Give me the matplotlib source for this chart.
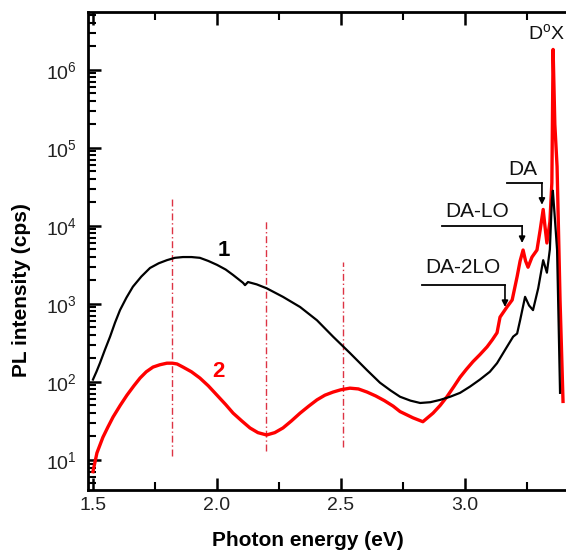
import numpy as np
import matplotlib
matplotlib.use("Agg")
import matplotlib.pyplot as plt
from matplotlib.ticker import MultipleLocator, FixedLocator, NullFormatter, LogFormatterSciNotation

plt.rcParams['font.family'] = ['Liberation Sans', 'DejaVu Sans']
plt.rcParams['mathtext.fontset'] = 'custom'
plt.rcParams['mathtext.rm'] = 'Liberation Sans'
plt.rcParams['mathtext.it'] = 'Liberation Sans:italic'
plt.rcParams['mathtext.bf'] = 'Liberation Sans:bold'

# ---- data (photon energy in eV, log10 of PL intensity in cps) ----
black_E = [1.500, 1.514, 1.528, 1.548, 1.569, 1.589, 1.609, 1.635, 1.661, 1.695,
           1.730, 1.765, 1.798, 1.830, 1.863, 1.897, 1.931, 1.965, 2.000, 2.035,
           2.065, 2.105, 2.113, 2.125, 2.160, 2.200, 2.266, 2.335, 2.403, 2.468,
           2.536, 2.605, 2.657, 2.700, 2.738, 2.780, 2.819, 2.860, 2.900, 2.940,
           2.980, 3.020, 3.060, 3.100, 3.129, 3.169, 3.194, 3.210, 3.222, 3.242,
           3.258, 3.274, 3.295, 3.315, 3.330, 3.342, 3.350, 3.354, 3.362, 3.371,
           3.377, 3.383]
black_log = [2.03, 2.13, 2.24, 2.41, 2.58, 2.76, 2.92, 3.08, 3.22, 3.35,
             3.46, 3.52, 3.56, 3.59, 3.60, 3.60, 3.59, 3.55, 3.50, 3.44,
             3.37, 3.27, 3.24, 3.28, 3.25, 3.20, 3.09, 2.96, 2.79, 2.58,
             2.37, 2.15, 1.99, 1.89, 1.81, 1.76, 1.73, 1.74, 1.77, 1.81,
             1.86, 1.94, 2.03, 2.13, 2.24, 2.45, 2.58, 2.62, 2.79, 3.09,
             2.98, 2.92, 3.20, 3.56, 3.40, 3.70, 4.33, 4.45, 4.10, 3.69,
             2.79, 1.86]

red_E = [1.500, 1.516, 1.540, 1.560, 1.581, 1.610, 1.637, 1.665, 1.690, 1.715,
         1.742, 1.770, 1.798, 1.820, 1.839, 1.863, 1.897, 1.931, 1.965, 2.000,
         2.035, 2.065, 2.100, 2.133, 2.165, 2.200, 2.233, 2.266, 2.300, 2.335,
         2.370, 2.403, 2.435, 2.468, 2.500, 2.536, 2.570, 2.605, 2.640, 2.675,
         2.710, 2.738, 2.790, 2.830, 2.871, 2.900, 2.927, 2.955, 2.980, 3.005,
         3.032, 3.060, 3.089, 3.110, 3.129, 3.141, 3.169, 3.190, 3.210, 3.222,
         3.234, 3.244, 3.254, 3.270, 3.290, 3.303, 3.315, 3.322, 3.330, 3.342,
         3.350, 3.355, 3.362, 3.371, 3.383, 3.395]
red_log = [0.85, 1.09, 1.29, 1.42, 1.55, 1.70, 1.83, 1.95, 2.05, 2.13,
           2.19, 2.22, 2.24, 2.24, 2.23, 2.19, 2.13, 2.05, 1.95, 1.83,
           1.71, 1.60, 1.50, 1.41, 1.35, 1.32, 1.35, 1.41, 1.50, 1.60,
           1.69, 1.77, 1.83, 1.87, 1.90, 1.92, 1.91, 1.87, 1.82, 1.76,
           1.69, 1.62, 1.54, 1.49, 1.60, 1.70, 1.81, 1.94, 2.06, 2.16,
           2.26, 2.35, 2.45, 2.54, 2.63, 2.83, 2.96, 3.05, 3.35, 3.55,
           3.69, 3.55, 3.47, 3.60, 3.69, 3.95, 4.21, 4.00, 3.78, 4.05,
           4.55, 6.26, 5.30, 4.76, 3.05, 1.75]

guide_E = [1.82, 2.198, 2.508]
guide_top = [4.36, 4.08, 3.54]
guide_bottom = [1.045, 1.12, 1.17]

x_ticks = [1.5, 2.0, 2.5, 3.0]
x_ticklabels = ["1.5", "2.0", "2.5", "3.0"]
y_ticks = [1e1, 1e2, 1e3, 1e4, 1e5, 1e6]

# annotation labels
peak_labels = ["DA", "DA-LO", "DA-2LO"]
peak_text_E = [3.234, 3.048, 2.990]
peak_text_log = [4.72, 4.18, 3.46]
peak_line_E0 = [3.169, 2.907, 2.827]
peak_line_E1 = [3.310, 3.230, 3.161]
peak_line_log = [4.55, 4.00, 3.24]
peak_tip_log = [4.27, 3.78, 2.96]

W, H = 566, 550
fig = plt.figure(figsize=(W / 100, H / 100), dpi=100)
ax = fig.add_axes([88 / W, 1 - 490 / H, (W - 88) / W, 478 / H])

ax.plot(black_E, 10 ** np.array(black_log), color='black', lw=1.6, zorder=3)
ax.plot(red_E, 10 ** np.array(red_log), color='#ff0000', lw=2.4, zorder=2)

for e, t, b in zip(guide_E, guide_top, guide_bottom):
    ax.plot([e, e], [10 ** b, 10 ** t], color='#dd3344', lw=1.0,
            linestyle=(0, (5, 2, 1, 2)), zorder=1)

for lab, tx, ty, x0, x1, ly, tip in zip(peak_labels, peak_text_E, peak_text_log,
                                         peak_line_E0, peak_line_E1, peak_line_log, peak_tip_log):
    ax.plot([x0, x1], [10 ** ly, 10 ** ly], color='black', lw=1.3, zorder=4)
    ax.annotate("", xy=(x1, 10 ** tip), xytext=(x1, 10 ** ly),
                arrowprops=dict(arrowstyle='-|>', color='black', lw=1.2,
                                mutation_scale=9, shrinkA=0, shrinkB=0), zorder=4)
    ax.text(tx, 10 ** ty, lab, fontsize=15, ha='center', va='center', color='#111111')

ax.text(3.328, 10 ** 6.47, r"D$^{\rm o}$X", fontsize=14, ha='center', va='center', color='#111111')
ax.text(2.028, 10 ** 3.69, "1", fontsize=16, fontweight='bold', ha='center', va='center', color='black')
ax.text(2.004, 10 ** 2.13, "2", fontsize=16, fontweight='bold', ha='center', va='center', color='#ff0000')

ax.set_yscale('log')
ax.set_xlim(1.48, 3.407)
ax.set_ylim(10 ** 0.615, 10 ** 6.74)

ax.set_xticks(x_ticks)
ax.set_xticklabels(x_ticklabels)
ax.xaxis.set_minor_locator(MultipleLocator(0.25))
ax.yaxis.set_major_locator(FixedLocator(y_ticks))
ax.yaxis.set_major_formatter(LogFormatterSciNotation())
minor_y = [m * 10.0 ** k for k in range(0, 7) for m in range(2, 10)]
ax.yaxis.set_minor_locator(FixedLocator(minor_y))
ax.yaxis.set_minor_formatter(NullFormatter())

ax.tick_params(axis='x', which='both', direction='in', top=True, bottom=True)
ax.tick_params(axis='y', which='both', direction='in', left=True, right=False)
ax.tick_params(which='major', length=9, width=1.8, labelsize=14, labelcolor='#222222')
ax.tick_params(which='minor', length=5.5, width=1.5)
ax.tick_params(axis='x', which='major', pad=5)
ax.tick_params(axis='y', which='major', pad=8)

for s in ['left', 'bottom', 'top']:
    ax.spines[s].set_linewidth(2.0)
ax.spines['right'].set_visible(False)

fig.text(308 / W, 1 - 540 / H, "Photon energy (eV)", fontsize=15, fontweight='bold',
         ha='center', va='center')
fig.text(22 / W, 1 - 290 / H, "PL intensity (cps)", fontsize=15, fontweight='bold',
         ha='center', va='center', rotation=90)

fig.savefig("out.png", dpi=100)
